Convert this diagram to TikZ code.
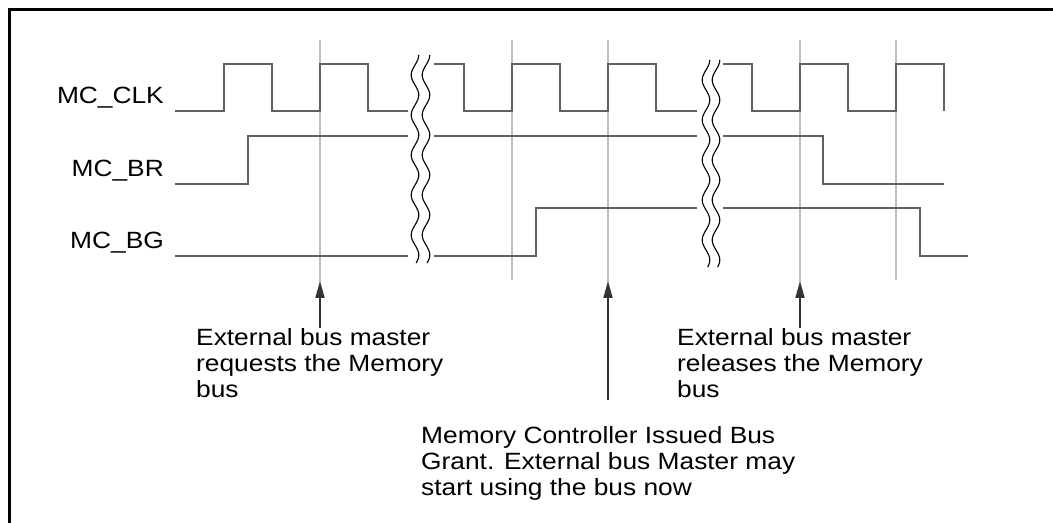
\documentclass[tikz,border=0pt]{standalone}
\usepackage{fontspec}
\newfontfamily\sigfont[FakeStretch=1.12]{Liberation Sans}
\usetikzlibrary{positioning,arrows.meta,calc}

\begin{document}
\begin{tikzpicture}[x=1bp, y=-1bp, >={Triangle[length=17bp, width=9bp]},
    wave/.style={line width=1.7bp, black!62},
    gridline/.style={line width=1.4bp, black!25},
    breakline/.style={line width=1.1bp, black},
    marker/.style={->, line width=1.6bp, black!80},
    signame/.style={anchor=base east, inner sep=0pt, font=\sigfont\fontsize{23.5bp}{26.3bp}\selectfont},
    note/.style={anchor=base west, inner sep=0pt, align=left, font=\sigfont\fontsize{23.5bp}{26.3bp}\selectfont}]

    % Page and frame
    \useasboundingbox (0,0) rectangle (1053,523);
    \clip (0,0) rectangle (1053,523);
    \fill[white] (0,0) rectangle (1053,523);
    \draw[line width=2.4bp] (1070,540) |- (9.5,9.5) -- (9.5,540);

    % Reference lines at the clock edges
    \draw[gridline] (320,40) -- (320,282);
    \draw[gridline] (512,40) -- (512,280);
    \draw[gridline] (608,40) -- (608,282);
    \draw[gridline] (800,40) -- (800,282);
    \draw[gridline] (896,40) -- (896,280);

    % Signal names
    \node[signame] (clk) at (164,104) {MC\_CLK};
    \node[signame] (br)  at (164,177) {MC\_BR};
    \node[signame] (bg)  at (164,249) {MC\_BG};

    % MC_CLK
    \draw[wave] (175,111) -- (224,111) -- (224,64) -- (272,64) -- (272,111) -- (320,111)
        -- (320,64) -- (368,64) -- (368,111) -- (408,111);
    \draw[wave] (434,64) -- (464,64) -- (464,111) -- (512,111) -- (512,64) -- (560,64)
        -- (560,111) -- (608,111) -- (608,64) -- (656,64) -- (656,111) -- (697,111);
    \draw[wave] (723,64) -- (752,64) -- (752,111) -- (800,111) -- (800,64) -- (848,64)
        -- (848,111) -- (896,111) -- (896,64) -- (944,64) -- (944,111);

    % MC_BR
    \draw[wave] (175,184) -- (248,184) -- (248,136) -- (408,136);
    \draw[wave] (434,136) -- (697,136);
    \draw[wave] (723,136) -- (823,136) -- (823,184) -- (944,184);

    % MC_BG
    \draw[wave] (175,256) -- (408,256);
    \draw[wave] (434,256) -- (536,256) -- (536,208) -- (697,208);
    \draw[wave] (723,208) -- (920,208) -- (920,256) -- (968,256);

    % Time breaks
    \draw[breakline] plot[domain=55:263, samples=90] ({415+3.8*cos(9*(\x-55))}, \x);
    \draw[breakline] plot[domain=55:263, samples=90] ({426+3.8*cos(9*(\x-55))}, \x);
    \draw[breakline] plot[domain=60:267, samples=90] ({706+3.8*cos(9*(\x-60))}, \x);
    \draw[breakline] plot[domain=60:267, samples=90] ({716+3.8*cos(9*(\x-60))}, \x);

    % Annotations (base = last line)
    \node[note] (req) at (196,397.6) {External bus master\\requests the Memory\\bus};
    \node[note] (gnt) at (421,495.6) {Memory Controller Issued Bus\\Grant. External bus Master may\\start using the bus now};
    \node[note] (rel) at (677,397.6) {External bus master\\releases the Memory\\bus};

    \coordinate (reqtip) at (320,281);
    \coordinate (gnttip) at (608,281);
    \coordinate (reltip) at (800,281);
    \coordinate (reqtail) at (320,328);
    \coordinate (gnttail) at (608,400);
    \coordinate (reltail) at (800,328);

    \draw[marker] (reqtail) -- (reqtip);
    \draw[marker] (gnttail) -- (gnttip);
    \draw[marker] (reltail) -- (reltip);
\end{tikzpicture}
\end{document}
